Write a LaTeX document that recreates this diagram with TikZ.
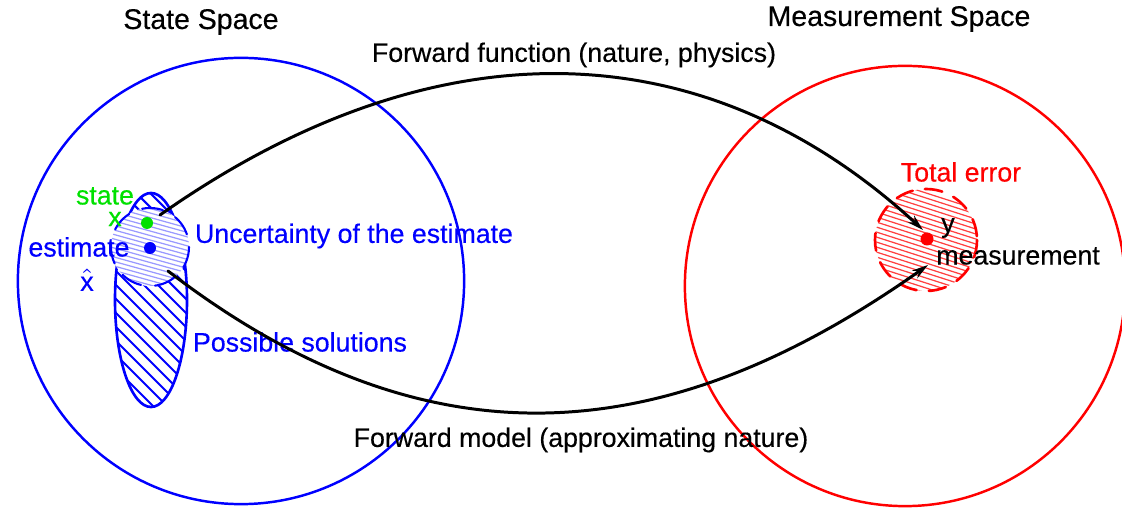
\documentclass[tikz,border=0pt]{standalone}
\usepackage{fontspec}
\setmainfont{Liberation Sans}[FakeBold=0.35]
\usetikzlibrary{arrows.meta}
\definecolor{stgreen}{RGB}{0,225,0}

\begin{document}
\begin{tikzpicture}[x=0.01cm,y=-0.01cm,line cap=round,line join=round,
  font=\fontsize{7.6}{9}\selectfont,
  title/.style={font=\fontsize{8.1}{10}\selectfont},
  spacering/.style={circle,draw=#1,line width=0.7pt,inner sep=0pt},
  dot/.style={circle,fill=#1,inner sep=0pt,minimum size=0.12cm},
  fwd/.style={-{Stealth[length=4.6pt,width=2.6pt]},black,line width=0.85pt}]
\useasboundingbox (0,0) rectangle (1122,510);
\fill[white] (0,0) rectangle (1122,510);
% the two spaces
\node[spacering=blue,minimum size=4.46cm] (sspace) at (241,281) {};
\node[spacering=red,minimum size=4.40cm] (mspace) at (905,286) {};
\node[title] (sstitle) at (201,22) {State Space};
\node[title] (mstitle) at (899,19) {Measurement Space};
% possible solutions
\begin{scope}
\clip (151,300) ellipse (36 and 107);
\foreach \k in {-110,-96,...,210}
  \draw[blue,line width=0.6pt] (\k,185) -- ++(240,240);
\end{scope}
\draw[blue,line width=0.75pt] (151,300) ellipse (36 and 107);
% uncertainty of the estimate
\fill[white] (150,247) circle (39);
\begin{scope}
\clip (150,247) circle (39);
\foreach \k in {178,182.5,...,292}
  \draw[blue!40,line width=0.35pt] (105,\k) -- ++(90,25);
\end{scope}
\draw[blue,line width=0.6pt,dash pattern=on 6pt off 4pt] (150,247) circle (39);
\node[inner sep=0pt,minimum size=0.78cm] (unc) at (150,247) {};
% total error
\begin{scope}
\clip (926,240) circle (51);
\foreach \k in {175,180,...,300}
  \draw[red!75,line width=0.35pt] (870,\k) -- ++(112,36);
\end{scope}
\draw[red,line width=0.75pt,dash pattern=on 5pt off 3.5pt] (926,240) circle (51);
\node[inner sep=0pt,minimum size=1.02cm] (terr) at (926,240) {};
% points
\node[dot=stgreen] (xstate) at (147,223) {};
\node[dot=blue] (xest) at (150,248) {};
\node[dot=red,minimum size=0.13cm] (ymeas) at (927,239) {};
% labels
\node[text=stgreen] (statelabel) at (105,196) {state};
\node[text=stgreen] (xlabel) at (115,219) {x};
\node[text=blue] (estlabel) at (79,247) {estimate};
\node[text=blue,inner sep=0pt] (xhat) at (87,280) {$\hat{\hbox{x}}$};
\node[text=blue] (unclabel) at (354,236) {Uncertainty of the estimate};
\node[text=blue] (sollabel) at (300,342) {Possible solutions};
\node[text=red] (errlabel) at (961,172) {Total error};
\node (ylabel) at (948,228) {y};
\node (measlabel) at (1018,256) {measurement};
\node (fflabel) at (574,55) {Forward function (nature, physics)};
\node (fmlabel) at (581,440) {Forward model (approximating nature)};
% forward function and forward model
\coordinate (ffstart) at (160,215);
\coordinate (ffend) at (923,230);
\coordinate (fmstart) at (168,271);
\coordinate (fmend) at (928,265);
\draw[fwd] (ffstart) .. controls (430,25) and (700,25) .. (ffend);
\draw[fwd] (fmstart) .. controls (440,480) and (680,440) .. (fmend);
\end{tikzpicture}
\end{document}
